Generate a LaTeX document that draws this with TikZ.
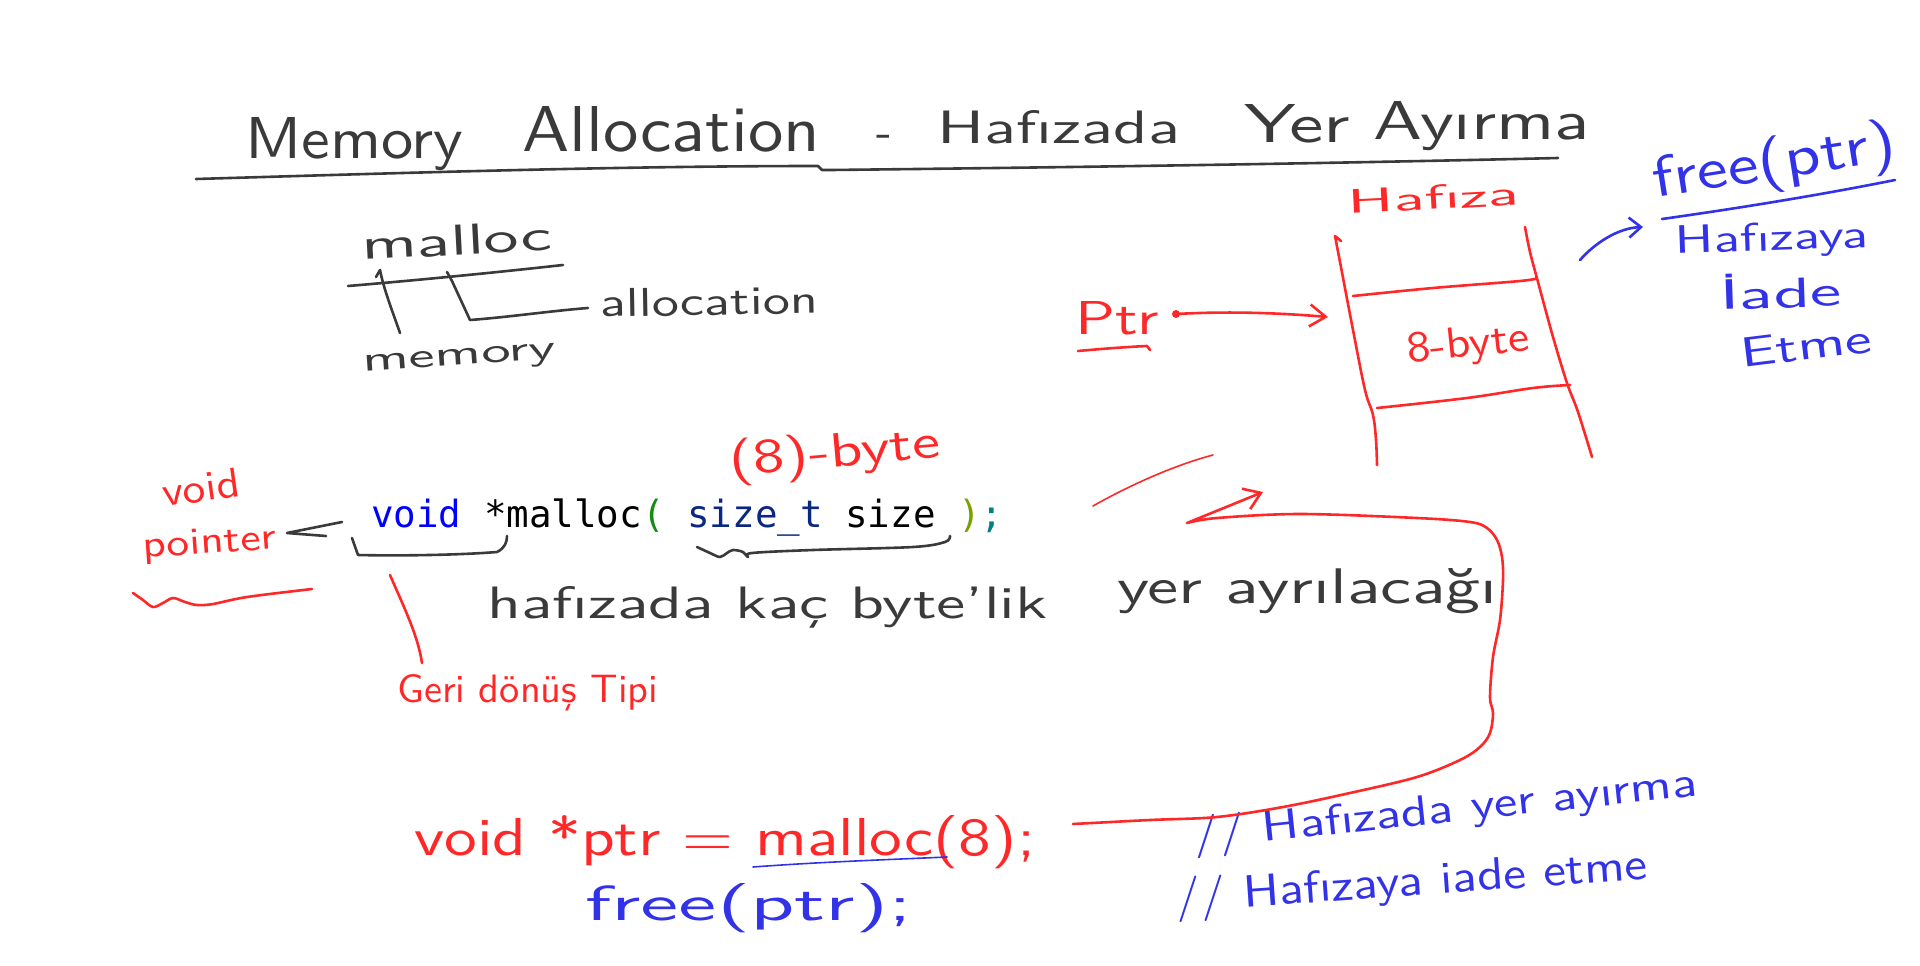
\documentclass[tikz,border=0pt]{standalone}
\usepackage{fontspec}
\usepackage{graphicx}
\newfontfamily\codefont{DejaVu Sans Mono}
\usetikzlibrary{arrows.meta}
\definecolor{ink}{RGB}{58,58,58}
\definecolor{rpen}{RGB}{255,40,40}
\definecolor{bpen}{RGB}{50,50,232}
\definecolor{ckw}{RGB}{0,0,255}
\definecolor{ctype}{RGB}{10,40,130}
\definecolor{cpar}{RGB}{20,140,20}
\definecolor{cpartwo}{RGB}{120,160,0}
\definecolor{csemi}{RGB}{0,128,128}
\newcommand{\hw}[3]{\resizebox{#1pt}{#2pt}{#3}}
\newcommand{\tslot}[5]{\makebox[#1pt][l]{\raisebox{#2pt}{\resizebox{#3pt}{#4pt}{#5}}}}
\begin{document}
\begin{tikzpicture}[x=1pt,y=-1pt,
  hand/.style={line width=2.6pt,line cap=round,line join=round},
  thinhand/.style={line width=1.6pt,line cap=round,line join=round},
  hw/.style={inner sep=0pt,anchor=base west,font=\sffamily},
  barb/.style={-{Straight Barb[length=16pt,width=22pt]}}]
\fill[white] (0,0) rectangle (1920,966);
\useasboundingbox (0,0) rectangle (1920,966);

% ---------- title ----------
\node[hw,text=ink] (title) at (245,158) {\tslot{277}{0}{218}{41}{Memory}\tslot{354}{6}{298}{45}{Allocation}\makebox[61pt][l]{\raisebox{11pt}{\fontsize{50pt}{50pt}\selectfont -}}\tslot{307}{15}{243}{33}{Hafızada}\tslot{129}{16}{106}{38}{Yer}\tslot{217}{18}{217}{38}{Ayırma}};
\draw[hand,ink] (196,179) .. controls (400,173) and (620,166) .. (818,166) -- (822,170) -- (831,170) .. controls (1100,167) and (1350,163) .. (1558,158);

% ---------- malloc = memory + allocation ----------
\node[hw,text=ink,rotate=3] (mallocw) at (362,260) {\hw{191}{30}{malloc}};
\node[hw,text=ink,rotate=1] (allocw) at (600,317) {\hw{218}{28}{allocation}};
\node[hw,text=ink,rotate=4] (memw) at (363,372) {\hw{194}{16}{memory}};
\draw[hand,ink] (348,286) .. controls (420,280) and (500,272) .. (563,265);
\coordinate (mtop) at (380,270);
\coordinate (mbot) at (400,333);
\draw[hand,ink] (mbot) .. controls (392,310) and (384,290) .. (mtop) -- (376,277);
\coordinate (atop) at (447,272);
\coordinate (aend) at (588,308);
\draw[hand,ink] (atop) -- (452,281) -- (470,320) .. controls (510,317) and (550,311) .. (aend);

% ---------- memory box ----------
\node[hw,text=rpen,rotate=3] (hafiza) at (1348,214) {\hw{172}{24}{Hafıza}};
\draw[hand,rpen] (1341,241) -- (1335,236) plot[smooth,tension=0.6] coordinates {(1335,236) (1340,262) (1353,330) (1365,390) (1373,415) (1376,440) (1377,465)};
\draw[hand,rpen] plot[smooth,tension=0.6] coordinates {(1525,227) (1530,252) (1538,282) (1553,337) (1567,383) (1578,412) (1592,457)};
\draw[hand,rpen] plot[smooth,tension=0.6] coordinates {(1353,296) (1433,288) (1520,281) (1537,278)};
\draw[hand,rpen] plot[smooth,tension=0.6] coordinates {(1377,408) (1467,398) (1533,388) (1570,385)};
\node[hw,text=rpen,rotate=6] (eightb) at (1408,363) {\hw{123}{30}{8-byte}};

% ---------- Ptr arrow ----------
\node[hw,text=rpen] (ptrw) at (1075,334) {\hw{84}{33}{Ptr}};
\draw[hand,rpen] (1078,351) .. controls (1100,349) and (1125,347) .. (1147,346) -- (1150,350);
\coordinate (ptrA) at (1176,314);
\coordinate (ptrB) at (1328,317);
\fill[rpen] (ptrA) circle[radius=4pt];
\draw[hand,rpen,barb] (ptrA) .. controls (1230,311) and (1280,313) .. (ptrB);
\draw[thinhand,rpen] (1093,506) .. controls (1130,485) and (1175,465) .. (1213,455);

% ---------- free(ptr) note, top right ----------
\node[hw,text=bpen,rotate=9] (freetop) at (1655,198) {\hw{246}{43}{free(ptr)}};
\draw[hand,bpen] (1662,219) .. controls (1740,208) and (1820,195) .. (1895,180);
\node[hw,text=bpen,rotate=2] (hafizaya) at (1675,254) {\hw{194}{28}{Hafızaya}};
\node[hw,text=bpen,rotate=2] (iade) at (1720,310) {\hw{122}{35}{İade}};
\node[hw,text=bpen,rotate=7] (etme) at (1742,368) {\hw{132}{29}{Etme}};
\coordinate (bA) at (1580,260);
\coordinate (bB) at (1643,227);
\draw[hand,bpen,-{Straight Barb[length=12pt,width=20pt]}] (bA) .. controls (1595,243) and (1618,228) .. (bB);

% ---------- prototype ----------
\node[inner sep=0pt,anchor=base west] (code) at (371,527) {\codefont\fontsize{37.5pt}{40pt}\selectfont\textcolor{ckw}{void} *malloc\textcolor{cpar}{(} \textcolor{ctype}{size\_t} size \textcolor{cpartwo}{)}\textcolor{csemi}{;}};
\node[hw,text=rpen,rotate=5] (eightbyte) at (730,476) {\hw{212}{36}{(8)-byte}};
\node[hw,text=rpen,rotate=8] (voidw) at (164,507) {\hw{78}{29}{void}};
\node[hw,text=rpen,rotate=4] (pointerw) at (143,558) {\hw{134}{25}{pointer}};
\coordinate (ptip) at (287,533);
\draw[hand,ink] (342,522) -- (ptip) -- (326,536);
\draw[hand,ink] (352,538) -- (358,555) .. controls (400,556) and (460,555) .. (497,552) .. controls (505,548) and (507,542) .. (507,536);
\draw[hand,ink] plot[smooth,tension=0.55] coordinates {(697,547) (710,553) (720,557) (727,553) (733,550) (743,552) (748,557) (752,553) (813,550) (913,547) (945,542) (950,536)};
\draw[hand,rpen] plot[smooth,tension=0.55] coordinates {(133,593) (143,600) (153,607) (163,603) (173,598) (185,602) (197,605) (213,604) (247,597) (312,589)};
\coordinate (rtop) at (390,575);
\coordinate (rbot) at (422,663);
\draw[hand,rpen] (rtop) .. controls (402,603) and (418,635) .. (rbot);
\node[hw,text=rpen] (geri) at (397,702) {\hw{261}{28}{Geri dönüş Tipi}};
\node[hw,text=ink] (kac) at (487,618) {\hw{560}{32}{hafızada kaç byte'lik}};
\node[hw,text=ink] (ayr) at (1117,603) {\hw{380}{35}{yer ayrılacağı}};

% ---------- usage ----------
\node[hw,text=rpen] (ptrcode) at (414,855) {\hw{621}{40}{void *ptr = malloc(8);}};
\draw[thinhand,bpen] (753,867) .. controls (820,862) and (880,860) .. (947,857);
\node[hw,text=bpen] (freecode) at (585,920) {\hw{327}{37}{free(ptr);}};
\node[hw,text=bpen,rotate=6] (cmtone) at (1194,849) {\hw{507}{32}{// Hafızada yer ayırma}};
\node[hw,text=bpen,rotate=4] (cmttwo) at (1176,912) {\hw{473}{34}{// Hafızaya iade etme}};

% ---------- big red arrow ----------
\coordinate (mstart) at (1073,824);
\coordinate (mturn) at (1187,523);
\coordinate (mtip) at (1263,492);
\draw[hand,rpen,-{Straight Barb[length=16pt,width=22pt]}] plot[smooth,tension=0.55] coordinates {(mstart) (1150,820) (1217,817) (1283,807) (1350,793) (1417,777) (1460,760) (1480,747) (1490,733) (1493,713) (1490,697) (1493,657) (1500,620) (1503,580) (1502,557) (1497,540) (1487,528) (1470,522) (1417,518) (1300,514) (1217,518) (mturn)} -- (mtip);
\end{tikzpicture}
\end{document}
